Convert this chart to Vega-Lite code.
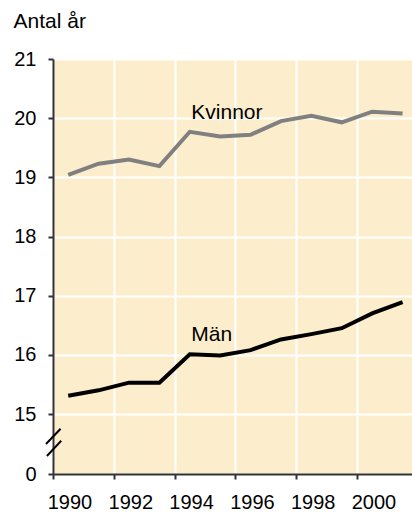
{
  "$schema": "https://vega.github.io/schema/vega-lite/v6.json",
  "width": 359,
  "height": 415,
  "autosize": {"type": "none"},
  "padding": {"left": 53, "top": 59, "right": 0, "bottom": 39},
  "background": "white",
  "config": {
    "view": {"stroke": null, "fill": "#FCEECC"},
    "font": "Liberation Sans"
  },
  "datasets": {
    "series": [
      {"year": 1990, "value": 19.04, "sex": "Kvinnor"},
      {"year": 1991, "value": 19.23, "sex": "Kvinnor"},
      {"year": 1992, "value": 19.30, "sex": "Kvinnor"},
      {"year": 1993, "value": 19.19, "sex": "Kvinnor"},
      {"year": 1994, "value": 19.77, "sex": "Kvinnor"},
      {"year": 1995, "value": 19.69, "sex": "Kvinnor"},
      {"year": 1996, "value": 19.72, "sex": "Kvinnor"},
      {"year": 1997, "value": 19.95, "sex": "Kvinnor"},
      {"year": 1998, "value": 20.04, "sex": "Kvinnor"},
      {"year": 1999, "value": 19.93, "sex": "Kvinnor"},
      {"year": 2000, "value": 20.11, "sex": "Kvinnor"},
      {"year": 2001, "value": 20.08, "sex": "Kvinnor"},
      {"year": 1990, "value": 15.31, "sex": "Män"},
      {"year": 1991, "value": 15.40, "sex": "Män"},
      {"year": 1992, "value": 15.53, "sex": "Män"},
      {"year": 1993, "value": 15.53, "sex": "Män"},
      {"year": 1994, "value": 16.01, "sex": "Män"},
      {"year": 1995, "value": 15.99, "sex": "Män"},
      {"year": 1996, "value": 16.08, "sex": "Män"},
      {"year": 1997, "value": 16.26, "sex": "Män"},
      {"year": 1998, "value": 16.35, "sex": "Män"},
      {"year": 1999, "value": 16.45, "sex": "Män"},
      {"year": 2000, "value": 16.70, "sex": "Män"},
      {"year": 2001, "value": 16.89, "sex": "Män"}
    ],
    "labels": [
      {"year": 1994.05, "value": 19.99, "label": "Kvinnor"},
      {"year": 1994.05, "value": 16.24, "label": "Män"}
    ],
    "brk": [
      {"year": 1989.75, "value": 11.3, "year2": 1989.27, "value2": 7.5},
      {"year": 1989.77, "value": 8.3, "year2": 1989.3, "value2": 4.5}
    ]
  },
  "layer": [
    {
      "data": {"name": "series"},
      "mark": {"type": "line", "strokeWidth": 4, "strokeJoin": "miter"},
      "encoding": {
        "x": {
          "field": "year", "type": "quantitative",
          "scale": {"domain": [1989.5, 2001.31], "nice": false, "zero": false},
          "axis": {
            "values": [1990, 1992, 1994, 1996, 1998, 2000],
            "format": "d",
            "title": null,
            "tickOffset": -15.2,
            "labelOffset": 16.5,
            "labelPadding": 13,
            "labelFontSize": 20,
            "labelColor": "black",
            "labelFlush": false,
            "labelOverlap": false,
            "tickSize": 5,
            "tickWidth": 2,
            "tickColor": "#333333",
            "domainColor": "#333333",
            "domainWidth": 2,
            "grid": true,
            "gridColor": "white",
            "gridWidth": 2
          }
        },
        "y": {
          "field": "value", "type": "quantitative",
          "scale": {"domain": [0, 15, 21], "range": [415, 355, 0], "nice": false, "zero": false},
          "axis": {
            "values": [0, 15, 16, 17, 18, 19, 20, 21],
            "title": "Antal år",
            "titleAngle": 0,
            "titleAlign": "left",
            "titleBaseline": "alphabetic",
            "titleX": -40,
            "titleY": -32,
            "titleFontSize": 21,
            "titleFontWeight": "normal",
            "titleColor": "black",
            "labelFontSize": 20,
            "labelColor": "black",
            "labelPadding": 12,
            "labelOverlap": false,
            "labelFlush": false,
            "tickSize": 5,
            "tickWidth": 2,
            "tickColor": "#333333",
            "domainColor": "#333333",
            "domainWidth": 2,
            "grid": true,
            "gridColor": "white",
            "gridWidth": 2
          }
        },
        "color": {
          "field": "sex", "type": "nominal",
          "scale": {"domain": ["Kvinnor", "Män"], "range": ["#808080", "#000000"]},
          "legend": null
        }
      }
    },
    {
      "mark": {"type": "rule", "color": "#8c8c8c", "strokeWidth": 2},
      "encoding": {
        "y": {"datum": 21, "type": "quantitative"}
      }
    },
    {
      "data": {"name": "labels"},
      "mark": {"type": "text", "align": "left", "baseline": "alphabetic", "fontSize": 21, "color": "black"},
      "encoding": {
        "x": {"field": "year", "type": "quantitative"},
        "y": {"field": "value", "type": "quantitative"},
        "text": {"field": "label"}
      }
    },
    {
      "data": {"name": "brk"},
      "mark": {"type": "rule", "color": "black", "strokeWidth": 2},
      "encoding": {
        "x": {"field": "year", "type": "quantitative"},
        "x2": {"field": "year2"},
        "y": {"field": "value", "type": "quantitative"},
        "y2": {"field": "value2"}
      }
    }
  ]
}
